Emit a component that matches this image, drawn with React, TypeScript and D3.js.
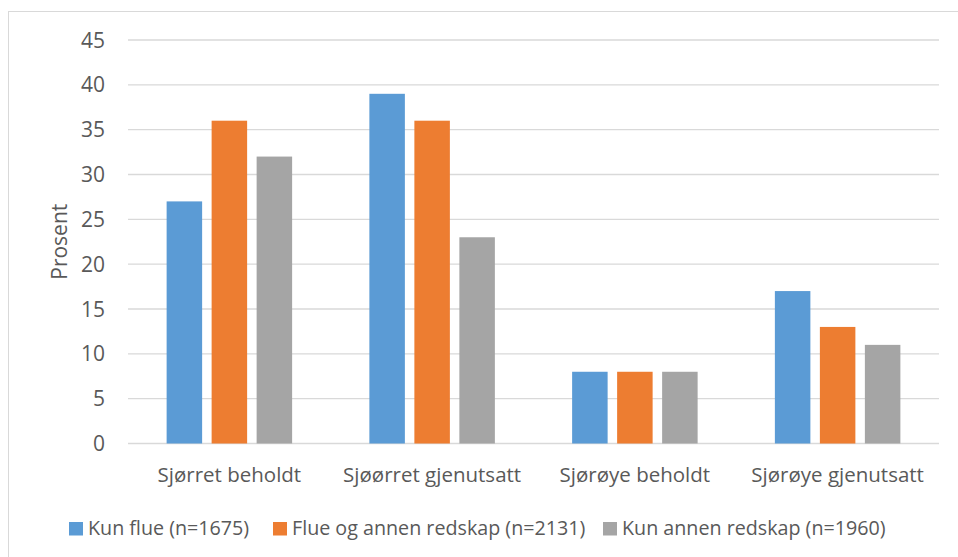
import React from "react";
import * as d3 from "d3";

const categories = ["Sjørret beholdt", "Sjøørret gjenutsatt", "Sjørøye beholdt", "Sjørøye gjenutsatt"];
const seriesNames = ["Kun flue (n=1675)", "Flue og annen redskap (n=2131)", "Kun annen redskap (n=1960)"];
const kunFlue = [27, 39, 8, 17];
const flueOgAnnen = [36, 36, 8, 13];
const kunAnnen = [32, 23, 8, 11];
const yTicks = [0, 5, 10, 15, 20, 25, 30, 35, 40, 45];
const colors = ["#5B9BD5", "#ED7D31", "#A5A5A5"];

const W = 958, H = 557;
const left = 128, right = 939, top = 40, bottom = 443.5;
const font = "'Open Sans', 'Liberation Sans', sans-serif";
const textColor = "#595959";

export default function App() {
  const series = [kunFlue, flueOgAnnen, kunAnnen];
  const x0 = d3.scaleBand().domain(categories).range([left, right]).paddingInner(0).paddingOuter(0);
  const barW = 35.5, gap = 9.5;
  const y = d3.scaleLinear().domain([0, 45]).range([bottom, top]);
  const groupSpan = 3 * barW + 2 * gap;

  const legendX = [69, 273, 603];

  return (
    <svg width={W} height={H} style={{ position: "absolute", left: 0, top: 0 }} fontFamily={font}>
      <rect x={0} y={0} width={W} height={H} fill="#fff" />
      <rect x={8.5} y={11.5} width={W + 10} height={H + 10} fill="none" stroke="#D9D9D9" strokeWidth={1} />
      {yTicks.map((t) => (
        <g key={t}>
          <line x1={left} x2={right} y1={y(t)} y2={y(t)} stroke="#D9D9D9" strokeWidth={1.3} />
          <text x={105} y={y(t) + 7.5} textAnchor="end" fontSize={21} fill={textColor}>{t}</text>
        </g>
      ))}
      <text transform={`translate(67,${(top + bottom) / 2}) rotate(-90)`} textAnchor="middle" fontSize={21} fill={textColor}>Prosent</text>
      {categories.map((c, ci) => {
        const cx = (x0(c) as number) + x0.bandwidth() / 2;
        const start = cx - groupSpan / 2;
        return (
          <g key={c}>
            {series.map((s, si) => (
              <rect key={si} x={start + si * (barW + gap)} y={y(s[ci])} width={barW} height={y(0) - y(s[ci])} fill={colors[si]} />
            ))}
            <text x={cx} y={481.5} textAnchor="middle" fontSize={20.5} fill={textColor}>{c}</text>
          </g>
        );
      })}
      {seriesNames.map((n, i) => (
        <g key={n}>
          <rect x={legendX[i]} y={522} width={14} height={13.5} fill={colors[i]} />
          <text x={legendX[i] + 19} y={535} fontSize={19.7} fill={textColor}>{n}</text>
        </g>
      ))}
    </svg>
  );
}
